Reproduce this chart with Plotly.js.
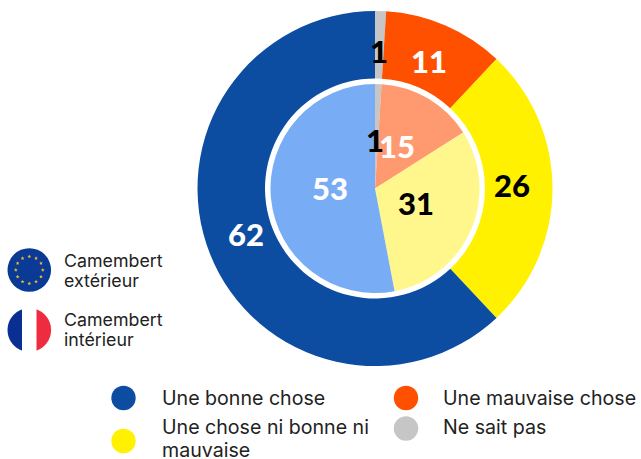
<!DOCTYPE html>
<html><head><meta charset="utf-8">
<script src="https://cdn.plot.ly/plotly-3.0.1.min.js"></script>
<style>html,body{margin:0;padding:0;background:#fff}#c{width:641px;height:459px}</style>
</head><body><div id="c"></div>
<script>
const categories = ["Ne sait pas","Une mauvaise chose","Une chose ni bonne ni mauvaise","Une bonne chose"];
const outerValues = [1,11,26,62];
const innerValues = [1,15,31,53];
const outerColors = ["#c6c6c6","#ff5000","#fff100","#0c4da2"];
const innerColors = ["#c6c6c6","#ff9a70","#fff78c","#78adf5"];
const legendOrder = [3,2,0,1];
const flagLabels = [["Camembert","extérieur"],["Camembert","intérieur"]];

const W=641,H=459;
const FONT="Inter, 'Noto Sans', sans-serif";
const px=x=>x/W, py=y=>1-y/H;
function dom(cx,cy,r){return {x:[px(cx-r),px(cx+r)],y:[py(cy+r),py(cy-r)]};}
const CX=375,CY=188.5;

const traces=[
 {type:'pie',values:outerValues,labels:categories,sort:false,direction:'clockwise',rotation:0,
  hole:110/177.5,domain:dom(CX,CY,177.5),textinfo:'none',marker:{colors:outerColors,line:{width:0}},showlegend:false,hoverinfo:'label+value'},
 {type:'pie',values:innerValues,labels:categories,sort:false,direction:'clockwise',rotation:0,
  domain:dom(CX,CY,104.5),textinfo:'none',marker:{colors:innerColors,line:{width:0}},showlegend:false,hoverinfo:'label+value'}
];

const ann=[],shapes=[];
function txt(x,y,t,o){ann.push(Object.assign({xref:'paper',yref:'paper',x:px(x),y:py(y),text:t,showarrow:false,xanchor:'center',yanchor:'middle',
  font:{family:FONT,size:17,color:'#1a1a1a'},align:'left',borderpad:0,borderwidth:0},o||{}));}
const big=c=>({font:{family:"Lato, Inter, sans-serif",size:31,color:c,weight:900}});
const outerPos=[[379,51,'#000'],[429,61,'#fff'],[512,185,'#000'],[246,234,'#fff']];
const innerPos=[[375,140,'#000'],[397,146,'#fff'],[416,203,'#000'],[330,188,'#fff']];
outerValues.forEach((v,i)=>txt(outerPos[i][0],outerPos[i][1],String(v),big(outerPos[i][2])));
innerValues.forEach((v,i)=>txt(innerPos[i][0],innerPos[i][1],String(v),big(innerPos[i][2])));

function arcPath(pts){return pts.map((p,i)=>(i?'L':'M')+px(p[0]).toFixed(5)+','+py(p[1]).toFixed(5)).join(' ')+' Z';}
function circle(cx,cy,r,c){shapes.push({type:'circle',xref:'paper',yref:'paper',x0:px(cx-r),x1:px(cx+r),y0:py(cy+r),y1:py(cy-r),fillcolor:c,line:{width:0},layer:'above'});}
function chord(cx,cy,r,x0,x1,c){
  const pts=[];const n=40;
  for(let i=0;i<=n;i++){const x=x0+(x1-x0)*i/n;pts.push([x,cy-Math.sqrt(Math.max(0,r*r-(x-cx)*(x-cx)))]);}
  for(let i=n;i>=0;i--){const x=x0+(x1-x0)*i/n;pts.push([x,cy+Math.sqrt(Math.max(0,r*r-(x-cx)*(x-cx)))]);}
  shapes.push({type:'path',xref:'paper',yref:'paper',path:arcPath(pts),fillcolor:c,line:{width:0},layer:'above'});
}
function star(cx,cy,R,c){const pts=[];for(let i=0;i<10;i++){const r=i%2?R*0.45:R,a=-Math.PI/2+i*Math.PI/5;pts.push([cx+r*Math.cos(a),cy+r*Math.sin(a)]);}
  shapes.push({type:'path',xref:'paper',yref:'paper',path:arcPath(pts),fillcolor:c,line:{width:0},layer:'above'});}
circle(29.3,270,21.8,'#0a3a96');
for(let i=0;i<12;i++){const a=i*Math.PI/6;star(29.3+13.5*Math.sin(a),270-13.5*Math.cos(a),2,'#e8bb30');}
chord(29.3,330,21.8,7.5,22,'#0a2f93');
chord(29.3,330,21.8,22,36.5,'#ffffff');
chord(29.3,330,21.8,36.5,51.1,'#ef2b3f');
const flagFont={family:FONT,size:17.8,color:'#222'};
txt(64,260,flagLabels[0][0],{xanchor:'left',font:flagFont});
txt(64,280,flagLabels[0][1],{xanchor:'left',font:flagFont});
txt(64,319,flagLabels[1][0],{xanchor:'left',font:flagFont});
txt(64,339,flagLabels[1][1],{xanchor:'left',font:flagFont});

const legFont={family:FONT,size:19.6,color:'#222'};
const legPos=[[123.5,398,162,398],[123.5,441,162,427],[406,428.5,443,427],[406,398,443,398]];
legendOrder.forEach((k,i)=>{
  const p=legPos[i];circle(p[0],p[1],12.2,outerColors[k]);
  if(categories[k]==="Une chose ni bonne ni mauvaise"){
    txt(p[2],p[3],"Une chose ni bonne ni",{xanchor:'left',font:legFont});
    txt(p[2],p[3]+22.5,"mauvaise",{xanchor:'left',font:legFont,height:18});
  } else txt(p[2],p[3],categories[k],{xanchor:'left',font:legFont});
});

Plotly.newPlot('c',traces,{width:W,height:H,margin:{l:0,r:0,t:0,b:0},paper_bgcolor:'#fff',plot_bgcolor:'#fff',showlegend:false,annotations:ann,shapes:shapes},{displayModeBar:false,staticPlot:true});
</script></body></html>
